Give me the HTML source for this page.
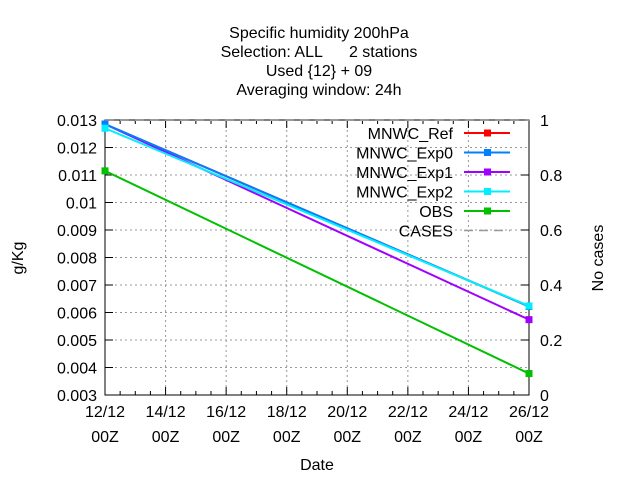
<!DOCTYPE html>
<html><head><meta charset="utf-8"><style>
body{margin:0;background:#fff;}
svg{display:block;font-family:"Liberation Sans",sans-serif;}
</style></head><body>
<svg id="c" width="640" height="480">
<g font-size="16" text-anchor="middle" fill="#000">
<text x="319" y="38">Specific humidity 200hPa</text>
<text x="319" y="57" xml:space="preserve">Selection: ALL      2 stations</text>
<text x="319" y="76">Used {12} + 09</text>
<text x="319" y="95">Averaging window: 24h</text>
</g>
<text x="23" y="258" font-size="16" text-anchor="middle" transform="rotate(-90 23 258)">g/Kg</text>
<text x="603" y="258" font-size="16" text-anchor="middle" transform="rotate(-90 603 258)">No cases</text>
<text x="317" y="470" font-size="16" text-anchor="middle">Date</text>
<g id="grid"></g><g id="axes"></g><g id="series"></g><g id="legend"></g>
</svg>
<script>
const xLabels=["12/12","14/12","16/12","18/12","20/12","22/12","24/12","26/12"];
const xDays=[0,14];
const yTicks=[0.003,0.004,0.005,0.006,0.007,0.008,0.009,0.01,0.011,0.012,0.013];
const y2Ticks=[0,0.2,0.4,0.6,0.8,1];
const seriesNames=["MNWC_Ref","MNWC_Exp0","MNWC_Exp1","MNWC_Exp2","OBS"];
const seriesColors=["#ff0000","#0080ff","#a000ff","#00eeff","#00c000"];
const refVals=[0.01285,0.00622];
const exp0Vals=[0.01285,0.00622];
const exp1Vals=[0.01285,0.00574];
const exp2Vals=[0.0127,0.00624];
const obsVals=[0.01115,0.00378];
const casesVals=[1,1];
const NS="http://www.w3.org/2000/svg";
const L=105,R=529,T=120,B=395;
const xs=d=>L+(R-L)*d/14;
const ys=v=>B-(B-T)*(v-0.003)/0.01;
const y2=v=>B-(B-T)*v;
function mk(p,tag,a){const e=document.createElementNS(NS,tag);for(const k in a)e.setAttribute(k,a[k]);p.appendChild(e);return e;}
const g=document.getElementById('grid'),ax=document.getElementById('axes'),se=document.getElementById('series'),lg=document.getElementById('legend');
xLabels.forEach((t,i)=>{const x=xs(i*2);
 if(i>0&&i<xLabels.length-1){const gl=mk(g,'line',{x1:x,x2:x,y1:T,y2:B,stroke:'#999','stroke-dasharray':'2,3'});}
 const a=mk(ax,'text',{x:x,y:417,'font-size':16,'text-anchor':'middle'});a.textContent=t;
 const b=mk(ax,'text',{x:x,y:442,'font-size':16,'text-anchor':'middle'});b.textContent='00Z';
});
for(let h=0;h<=28;h++){const x=xs(h/2),len=h%4==0?8:4;mk(ax,'line',{x1:x,x2:x,y1:B,y2:B-len,stroke:'#000'});mk(ax,'line',{x1:x,x2:x,y1:T,y2:T+len,stroke:'#000'});}
yTicks.forEach((v,i)=>{const y=ys(v);
 if(i>0&&i<yTicks.length-1){const gl=mk(g,'line',{x1:L,x2:R,y1:y,y2:y,stroke:'#999','stroke-dasharray':'2,3'});}
 mk(ax,'line',{x1:L,x2:L+8,y1:y,y2:y,stroke:'#000'});
 const t=mk(ax,'text',{x:97,y:y+6,'font-size':16,'text-anchor':'end'});t.textContent=String(+v.toFixed(3));
});
y2Ticks.forEach(v=>{const y=y2(v);mk(ax,'line',{x1:R,x2:R-8,y1:y,y2:y,stroke:'#000'});
 const t=mk(ax,'text',{x:540,y:y+6,'font-size':16});t.textContent=String(v);});
const fr=mk(ax,'rect',{x:L,y:T,width:R-L,height:B-T,fill:'none',stroke:'#000'});

const cl=mk(se,'polyline',{points:xDays.map((d,i)=>xs(d)+','+y2(casesVals[i])).join(' '),fill:'none',stroke:'#999','stroke-width':2,'stroke-dasharray':'9,6'});

const all=[refVals,exp0Vals,exp1Vals,exp2Vals,obsVals];
const order=[4,0,2,1,3];
order.forEach(k=>{const vals=all[k],c=seriesColors[k];
 const pl=mk(se,'polyline',{points:xDays.map((d,i)=>xs(d)+','+ys(vals[i])).join(' '),fill:'none',stroke:c,'stroke-width':2});
 
 xDays.forEach((d,i)=>{const m=mk(se,'rect',{x:xs(d)-3.5,y:ys(vals[i])-3.5,width:7,height:7,fill:c});});
});
const lnames=seriesNames.concat(['CASES']);
lnames.forEach((n,i)=>{const y=133+i*19.5;
 const t=mk(lg,'text',{x:453,y:y+6,'font-size':16,'text-anchor':'end'});t.textContent=n;
 if(i<5){const l=mk(lg,'line',{x1:464,x2:510,y1:y,y2:y,stroke:seriesColors[i],'stroke-width':2});
  mk(lg,'rect',{x:484,y:y-3.5,width:7,height:7,fill:seriesColors[i]});}
 else{const l=mk(lg,'line',{x1:464,x2:510,y1:y,y2:y,stroke:'#999','stroke-width':1.5,'stroke-dasharray':'9,6'});}
});
</script>
</body></html>
